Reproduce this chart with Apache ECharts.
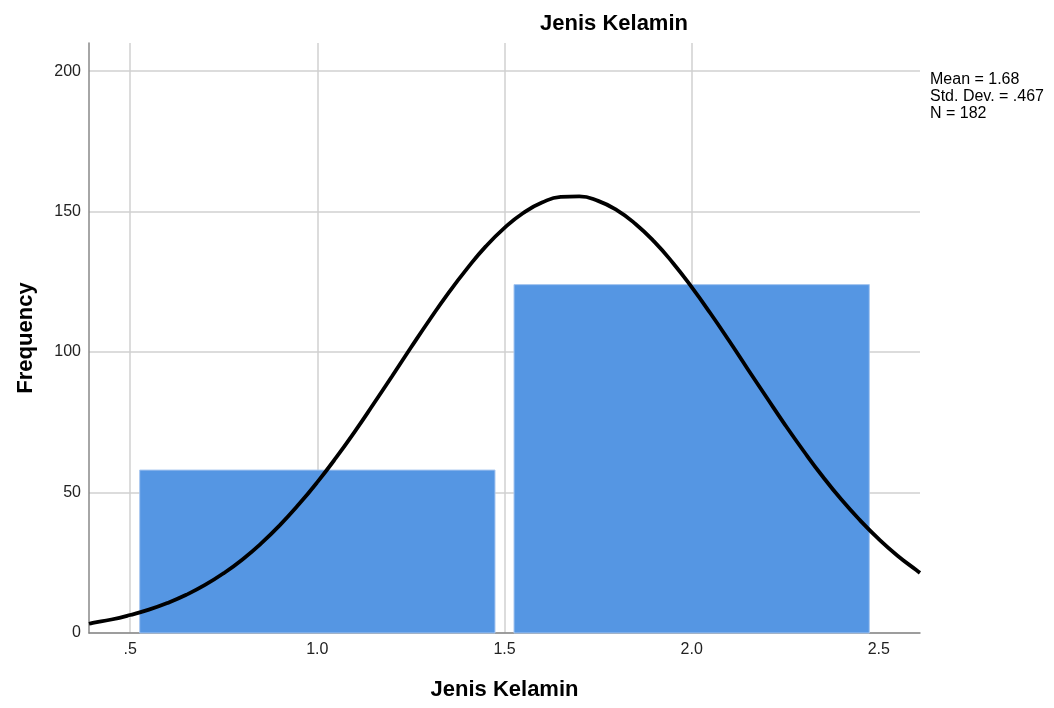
<!DOCTYPE html>
<html>
<head>
<meta charset="utf-8">
<script src="https://cdn.jsdelivr.net/npm/echarts@6/dist/echarts.min.js"></script>
<style>html,body{margin:0;padding:0;background:#fff}#c{width:1054px;height:708px}</style>
</head>
<body>
<div id="c"></div>
<script>
var binStart = [0.5, 1.5];
var binEnd = [1.5, 2.5];
var freq = [58, 124];
var curveX = [0.39,0.4,0.45,0.5,0.55,0.6,0.65,0.7,0.75,0.8,0.85,0.9,0.95,1.0,1.05,1.1,1.15,1.2,1.25,1.3,1.35,1.4,1.45,1.5,1.55,1.6,1.65,1.7,1.75,1.8,1.85,1.9,1.95,2.0,2.05,2.1,2.15,2.2,2.25,2.3,2.35,2.4,2.45,2.5,2.55,2.6,2.61];
var curveY = [3.3,3.6,4.8,6.4,8.3,10.7,13.6,17.1,21.3,26.2,31.9,38.4,45.7,53.7,62.4,71.7,81.5,91.5,101.6,111.5,121.0,129.7,137.6,144.2,149.5,153.2,155.2,155.4,153.8,150.5,145.6,139.3,131.7,123.1,113.8,104.0,93.9,83.9,74.0,64.6,55.7,47.5,40.1,33.4,27.5,22.4,21.4];
var xTickValues = [0.5, 1.0, 1.5, 2.0, 2.5];
var xTicks = ['.5','1.0','1.5','2.0','2.5'];
var yTicks = [0,50,100,150,200];
var statsText = ['Mean = 1.68','Std. Dev. = .467','N = 182'];

var barData = binStart.map(function(s,i){return [s, binEnd[i], freq[i]];});
var curveData = curveX.map(function(x,i){return [x, curveY[i]];});
var xLabelMap = {};
xTickValues.forEach(function(v,i){xLabelMap[v.toFixed(1)] = xTicks[i];});

var FONT = 'Liberation Sans, Arial, sans-serif';
var chart = echarts.init(document.getElementById('c'));
chart.setOption({
  animation: false,
  textStyle: {fontFamily: FONT},
  title: {
    text: 'Jenis Kelamin', left: 609, top: 8, textAlign: 'center',
    textStyle: {fontSize: 22, fontWeight: 'bold', color: '#000', fontFamily: FONT}
  },
  graphic: [{
    type: 'text', left: 930, top: 71,
    style: {text: statsText.join('\n'), fontSize: 16, lineHeight: 17, fill: '#000', fontFamily: FONT}
  }],
  grid: {left: 89, right: 134, top: 43, bottom: 75},
  xAxis: {
    type: 'value', min: 0.39, max: 2.61,
    name: 'Jenis Kelamin', nameLocation: 'middle', nameGap: 46,
    nameTextStyle: {fontSize: 22, fontWeight: 'bold', color: '#000'},
    axisLine: {show: true, lineStyle: {color: '#888', width: 1.5}},
    axisTick: {show: false, customValues: xTickValues},
    splitLine: {show: true, showMaxLine: false, lineStyle: {color: '#d0d0d0', width: 1.5}},
    axisLabel: {
      color: '#222', fontSize: 16, margin: 9,
      customValues: xTickValues,
      formatter: function(v){ return xLabelMap[(+v).toFixed(1)] || ''; }
    }
  },
  yAxis: {
    type: 'value', min: 0, max: 210, interval: 50,
    name: 'Frequency', nameLocation: 'middle', nameGap: 52,
    nameTextStyle: {fontSize: 22, fontWeight: 'bold', color: '#000'},
    axisLine: {show: true, lineStyle: {color: '#888', width: 1.5}},
    axisTick: {show: false},
    splitLine: {show: true, showMaxLine: false, lineStyle: {color: '#d0d0d0', width: 1.5}},
    axisLabel: {
      color: '#222', fontSize: 16, margin: 8,
      customValues: yTicks
    }
  },
  series: [{
    type: 'custom',
    data: barData,
    encode: {x: [0,1], y: 2},
    z: 2,
    renderItem: function(params, api){
      var p0 = api.coord([api.value(0), 0]);
      var p1 = api.coord([api.value(1), api.value(2)]);
      var inset = 9.5;
      return {
        type: 'rect',
        shape: {x: p0[0] + inset, y: p1[1], width: p1[0] - p0[0] - 2*inset, height: p0[1] - p1[1]},
        style: {fill: '#5596e3', stroke: '#a8c7f0', lineWidth: 1}
      };
    }
  }, {
    type: 'line',
    data: curveData,
    smooth: true,
    symbol: 'none',
    z: 5,
    lineStyle: {color: '#000', width: 3.8}
  }]
});
</script>
</body>
</html>
